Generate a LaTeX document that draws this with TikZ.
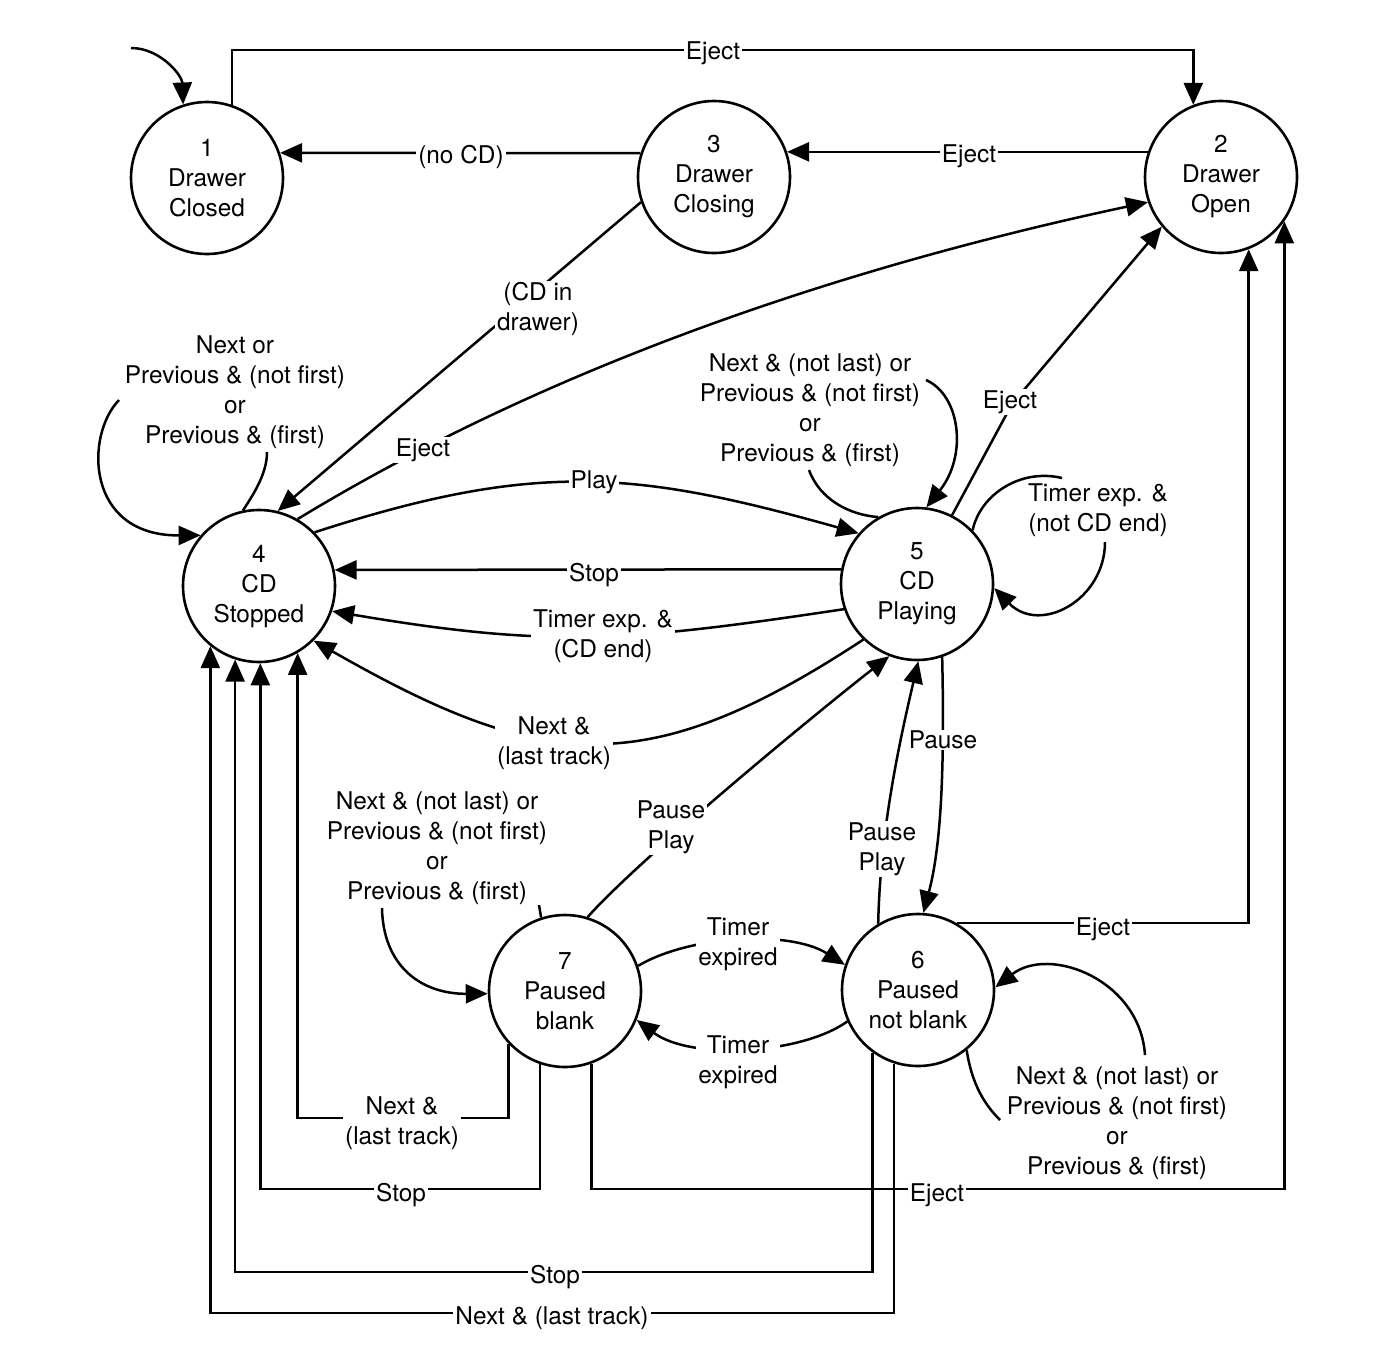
\documentclass[tikz,border=0pt]{standalone}
\usepackage{fontspec}
\setmainfont{TeX Gyre Heros}
\usetikzlibrary{arrows.meta}
\begin{document}
\begin{tikzpicture}[x=0.5pt,y=-0.5pt,
  font=\fontsize{12.2}{15}\selectfont,
  state/.style={circle,draw,line width=1.3pt,minimum size=76pt,inner sep=0pt,align=center},
  conn/.style={line width=1.25pt},
  arr/.style={conn,-{Triangle[length=11pt,width=9.5pt]}},
  lbl/.style={fill=white,inner xsep=1pt,inner ysep=0.5pt,align=center}]
\useasboundingbox (0,0) rectangle (1376,1350);

% states
\node[state] (n1) at (207,178) {1\\Drawer\\Closed};
\node[state] (n3) at (714,177) {3\\Drawer\\Closing};
\node[state] (n2) at (1221,177) {2\\Drawer\\Open};
\node[state] (n4) at (259,586) {4\\CD\\Stopped};
\node[state] (n5) at (917,584) {5\\CD\\Playing};
\node[state] (n7) at (565,991) {7\\Paused\\blank};
\node[state] (n6) at (918,990) {6\\Paused\\not blank};

% helper coordinates
\coordinate (top) at (0,50);
\coordinate (b1) at (0,1118);
\coordinate (b2) at (0,1189);
\coordinate (b3) at (0,1272);
\coordinate (b4) at (0,1313);
\coordinate (init) at (131,48);

% top row
\draw[arr] (init) .. controls (160,48) and (182,75) .. (n1.108);
\draw[arr] (n1.71) -- (n1.71 |- top) -| (n2.111);
\draw[arr] (n3.162) -- (n1.19);
\draw[arr] (n2.161) -- (n3.19);
\draw[arr] (n3.199) -- (n4.76);
\draw[arr] (n4.60) .. controls (556,362) and (853,265) .. (n2.199);

% 4 <-> 5
\draw[arr] (n4.44) .. controls (537,460) and (637,471) .. (n5.139);
\draw[arr] (n5.169) -- (n4.12);
\draw[arr] (n5.199) .. controls (625,642) and (550,648) .. (n4.341);
\draw[arr] (n5.226) .. controls (645,783) and (542,771) .. (n4.315);

% loop on 4
\coordinate (l4a) at (267,452);
\coordinate (l4b) at (119,400);
\draw[conn] (n4.102) .. controls (258,488) and (267,470) .. (l4a);
\draw[arr] (l4b) .. controls (85,435) and (85,536) .. (n4.139);

% loop on 5 (top)
\coordinate (l5a) at (809,470);
\coordinate (l5b) at (926,380);
\draw[conn] (n5.120) .. controls (850,515) and (820,500) .. (l5a);
\draw[arr] (l5b) .. controls (960,395) and (968,455) .. (n5.83);

% eject 5 -> 2
\draw[arr] (n5.63) -- (1012,404) -- (n2.220);

% timer loop on 5
\coordinate (l5c) at (1062,478);
\coordinate (l5d) at (1105,542);
\draw[conn] (n5.44) .. controls (980,495) and (1020,468) .. (l5c);
\draw[arr] (l5d) .. controls (1105,600) and (1040,635) .. (n5.357);

% 5 <-> 6, 7 -> 5
\draw[arr] (n5.289) .. controls (945,780) and (940,850) .. (n6.86);
\draw[arr] (n6.121) .. controls (880,840) and (895,760) .. (n5.271);
\draw[arr] (n7.73) .. controls (641,857) and (825,706) .. (n5.249);

% loop on 7
\coordinate (l7a) at (539,905);
\coordinate (l7b) at (382,908);
\draw[conn] (n7.108) -- (l7a);
\draw[arr] (l7b) .. controls (383,965) and (420,994) .. (n7.182);

% 7 <-> 6
\draw[arr] (n7.19) .. controls (690,935) and (790,930) .. (n6.161);
\draw[arr] (n6.204) .. controls (800,1055) and (690,1060) .. (n7.338);

% loop on 6
\coordinate (l6a) at (1000,1120);
\coordinate (l6b) at (1145,1055);
\draw[conn] (n6.309) .. controls (972,1085) and (985,1105) .. (l6a);
\draw[arr] (l6b) .. controls (1140,980) and (1050,945) .. (n6.2);

% orthogonal connectors
\draw[arr] (n6.60) -| (n2.291);
\draw[arr] (n7.290) -- (n7.290 |- b2) -| (n2.325);
\draw[arr] (n7.223) -- (n7.223 |- b1) -| (n4.300);
\draw[arr] (n7.251) -- (n7.251 |- b2) -| (n4.271);
\draw[arr] (n6.234) -- (n6.234 |- b3) -| (n4.252);
\draw[arr] (n6.252) -- (n6.252 |- b4) -| (n4.231);

% labels
\node[lbl] (t1) at (713,53) {Eject};
\node[lbl] (t2) at (461,157) {(no CD)};
\node[lbl] (t3) at (969,156) {Eject};
\node[lbl] (t4) at (538,309) {(CD in\\drawer)};
\node[lbl] (t5) at (423,450) {Eject};
\node[lbl] (t6) at (235,392) {Next or\\Previous \& (not first)\\or\\Previous \& (first)};
\node[lbl] (t7) at (594,482) {Play};
\node[lbl] (t8) at (594,575) {Stop};
\node[lbl] (t9) at (603,636) {Timer exp. \&\\(CD end)};
\node[lbl] (t10) at (554,743) {Next \&\\(last track)};
\node[lbl] (t11) at (810,410) {Next \& (not last) or\\Previous \& (not first)\\or\\Previous \& (first)};
\node[lbl] (t12) at (1010,402) {Eject};
\node[lbl] (t13) at (1098,510) {Timer exp. \&\\(not CD end)};
\node[lbl] (t14) at (943,740) {Pause};
\node[lbl] (t15) at (882,849) {Pause\\Play};
\node[lbl] (t16) at (671,827) {Pause\\Play};
\node[lbl] (t17) at (437,848) {Next \& (not last) or\\Previous \& (not first)\\or\\Previous \& (first)};
\node[lbl] (t18) at (738,944) {Timer\\expired};
\node[lbl] (t19) at (738,1062) {Timer\\expired};
\node[lbl] (t20) at (1103,929) {Eject};
\node[lbl] (t21) at (1117,1123) {Next \& (not last) or\\Previous \& (not first)\\or\\Previous \& (first)};
\node[lbl] (t22) at (402,1123) {Next \&\\(last track)};
\node[lbl] (t23) at (401,1195) {Stop};
\node[lbl] (t24) at (937,1195) {Eject};
\node[lbl] (t25) at (555,1277) {Stop};
\node[lbl] (t26) at (552,1318) {Next \& (last track)};
\end{tikzpicture}
\end{document}
